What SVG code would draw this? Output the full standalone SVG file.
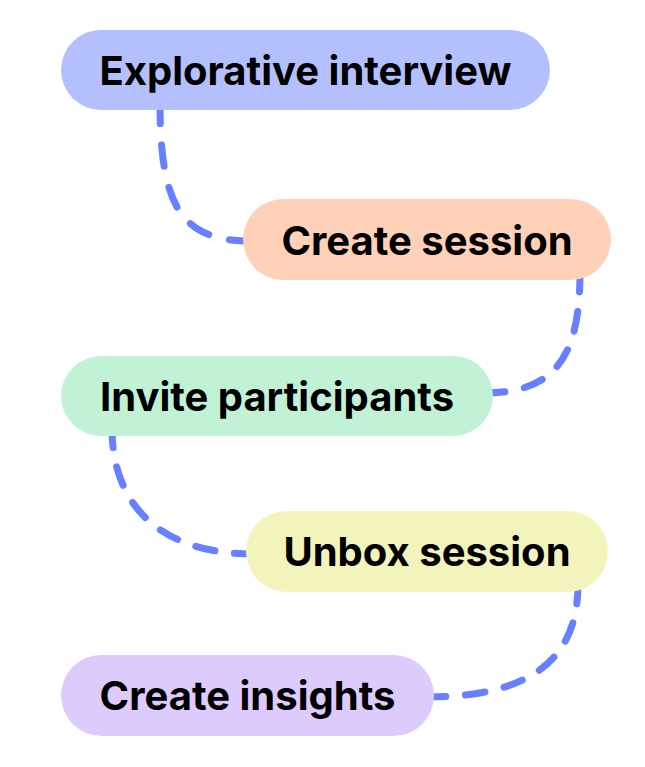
<svg xmlns="http://www.w3.org/2000/svg" width="645" height="767" viewBox="0 0 645 767">
<style>
.edge{fill:none;stroke:#6680FF;stroke-width:7;stroke-linecap:round}
.e5{stroke-dasharray:11.111 11.111}
.e6{stroke-dasharray:9.091 9.091}
.lbl{font-family:Inter,"Noto Sans","Liberation Sans",sans-serif;font-weight:700;font-size:40px;fill:#000;text-anchor:middle}
</style>
<rect width="645" height="767" fill="#fff"/>
<g id="connectors">
<path class="edge e5" pathLength="100" d="M160,102 C160,205 180,241 251,241"/>
<path class="edge e5" pathLength="100" d="M485,393 C560,393 580,350 580,272"/>
<path class="edge e6" pathLength="100" d="M112,428 C112,505 160,554 254,554"/>
<path class="edge e6" pathLength="100" d="M426,697 C530,697 578,660 578,584"/>
</g>
<g id="n1"><rect x="61" y="30" width="489" height="80" rx="40" fill="#B4C0FD"/><text class="lbl" x="305.5" y="85">Explorative interview</text></g>
<g id="n2"><rect x="243" y="199" width="368" height="81" rx="40.5" fill="#FFD1B8"/><text class="lbl" x="427" y="255">Create session</text></g>
<g id="n3"><rect x="61" y="356" width="432" height="80" rx="40" fill="#C1F2D6"/><text class="lbl" x="277" y="411">Invite participants</text></g>
<g id="n4"><rect x="246" y="511" width="362" height="81" rx="40.5" fill="#F3F4BB"/><text class="lbl" x="427" y="566">Unbox session</text></g>
<g id="n5"><rect x="61" y="655" width="373" height="81" rx="40.5" fill="#DCCBFC"/><text class="lbl" x="247.5" y="710">Create insights</text></g>
</svg>
